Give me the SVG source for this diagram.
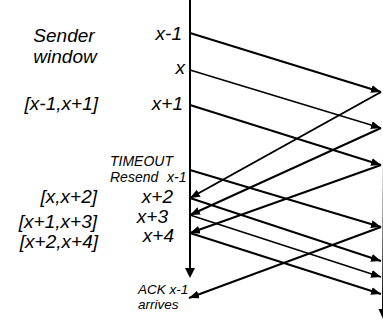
<svg xmlns="http://www.w3.org/2000/svg" width="383" height="322" viewBox="0 0 383 322">
  <style>
    .lbl { font-family: "Liberation Sans", Arial, sans-serif; font-style: italic; fill: #000; }
    .big { font-size: 19px; }
    .small { font-size: 14px; }
    .note { font-size: 13.5px; }
    .end { text-anchor: end; }
    .mid { text-anchor: middle; }
    .msg { stroke: #000; stroke-width: 2; fill: none; marker-end: url(#head); }
    .thin { stroke-width: 1.6; }
    .axis { stroke: #000; stroke-width: 2; fill: none; }
  </style>
  <defs>
    <marker id="head" markerUnits="userSpaceOnUse" markerWidth="11" markerHeight="9" refX="10" refY="4" orient="auto">
      <path d="M0,0 L10,4 L0,8 z" fill="#000"/>
    </marker>
  </defs>

  <!-- sender timeline -->
  <g id="sender">
    <line class="axis" x1="190" y1="0" x2="190" y2="269"/>
    <path d="M185,268 L190,278 L195,268 z" fill="#000"/>
  </g>

  <!-- receiver timeline at the right edge -->
  <g id="receiver">
    <line class="axis" x1="385" y1="0" x2="383" y2="310"/>
    <path d="M378.5,309 L383,319 L387.5,309 z" fill="#000"/>
  </g>

  <!-- labels on the sender side -->
  <g id="labels">
    <text class="lbl big mid" x="64" y="42">Sender</text>
    <text class="lbl big mid" x="65" y="63">window</text>
    <text class="lbl big end" x="182" y="40">x-1</text>
    <text class="lbl big end" x="185" y="74">x</text>
    <text class="lbl big end" x="183" y="110">x+1</text>
    <text class="lbl big end" x="98" y="110">[x-1,x+1]</text>
    <text class="lbl small" x="110" y="166">TIMEOUT</text>
    <text class="lbl small" x="110" y="182">Resend<tspan x="167">x-1</tspan></text>
    <text class="lbl big end" x="97" y="203">[x,x+2]</text>
    <text class="lbl big end" x="173" y="203">x+2</text>
    <text class="lbl big end" x="168" y="223">x+3</text>
    <text class="lbl big end" x="97" y="228">[x+1,x+3]</text>
    <text class="lbl big end" x="174" y="242">x+4</text>
    <text class="lbl big end" x="98" y="248">[x+2,x+4]</text>
    <text class="lbl note" x="138" y="294">ACK x-1</text>
    <text class="lbl note" x="138" y="309">arrives</text>
  </g>

  <!-- packets and acknowledgements -->
  <g id="connectors">
    <line class="msg" x1="190" y1="33" x2="381" y2="92"/>
    <line class="msg thin" x1="190" y1="70" x2="381" y2="128"/>
    <line class="msg" x1="190" y1="105" x2="381" y2="165"/>
    <line class="msg" x1="190" y1="170" x2="381" y2="227"/>
    <line class="msg" x1="190" y1="198" x2="381" y2="261"/>
    <line class="msg thin" x1="190" y1="215" x2="381" y2="277"/>
    <line class="msg" x1="190" y1="233" x2="381" y2="294"/>

    <line class="msg" x1="381" y1="92" x2="190" y2="198"/>
    <line class="msg" x1="381" y1="128" x2="190" y2="215"/>
    <line class="msg" x1="381" y1="165" x2="190" y2="233"/>
    <line class="msg" x1="381" y1="227" x2="189" y2="298"/>
  </g>
</svg>
